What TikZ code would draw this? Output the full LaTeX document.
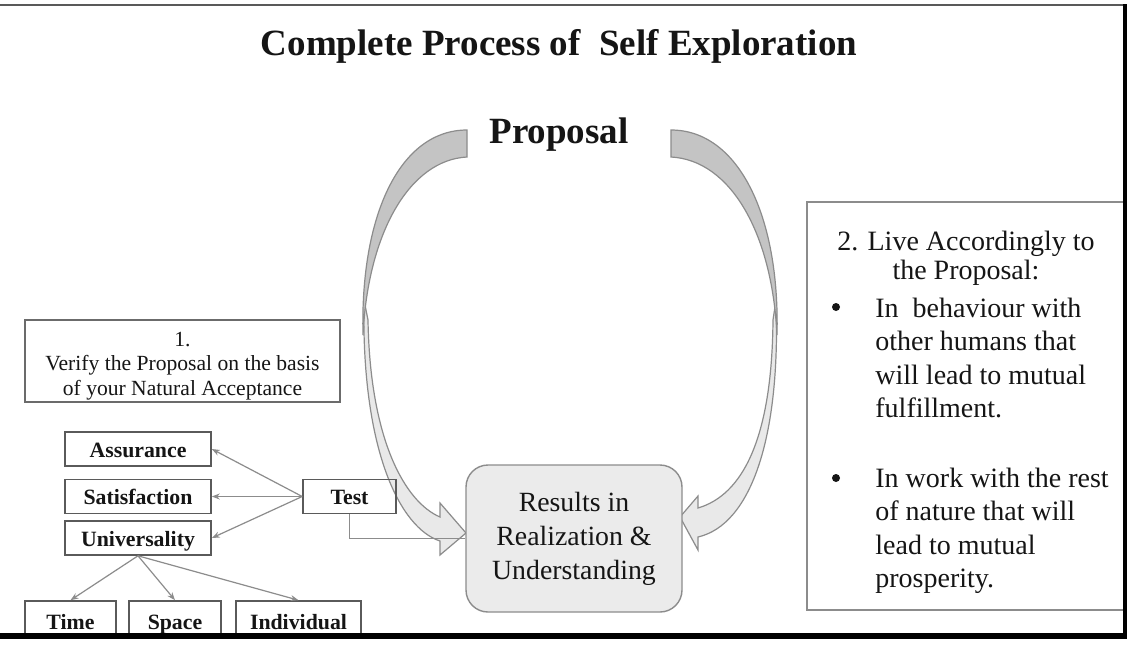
\documentclass[tikz,border=0pt]{standalone}
\usepackage{fontspec}
\setmainfont{Liberation Serif}
\usetikzlibrary{arrows.meta}
\definecolor{darkfill}{HTML}{C4C4C4}
\definecolor{lightfill}{HTML}{E9E9E9}
\definecolor{edgegray}{HTML}{8C8C8C}
\definecolor{boxline}{HTML}{5A5A5A}
\definecolor{ink}{HTML}{151515}
\definecolor{resfill}{HTML}{EBEBEB}
\begin{document}
\begin{tikzpicture}[x=0.5pt,y=-0.5pt,
  every node/.style={text=ink},
  smallbox/.style={draw=boxline, line width=0.8pt, inner sep=0pt,
    font=\bfseries\fontsize{10.9}{12}\selectfont, minimum height=17pt,
    text height=9pt, text depth=1pt},
  conn/.style={draw=edgegray, line width=0.6pt, -{Stealth[length=4pt,width=3pt]}},
  blockdark/.style={fill=darkfill, draw=edgegray, line width=0.6pt},
  blocklight/.style={fill=lightfill, draw=edgegray, line width=0.6pt},
  bodytext/.style={font=\fontsize{14}{16.75}\selectfont, align=left, inner sep=0pt},
  bulletdot/.style={circle, fill=ink, inner sep=0pt, minimum size=4pt}
]
\useasboundingbox (0,0) rectangle (1142,650);
\fill[white] (0,0) rectangle (1142,650);

% title
\node[anchor=base, font=\bfseries\fontsize{18.5}{20}\selectfont] (title) at (559,55) {Complete Process of\ \ Self Exploration};
\node[anchor=base, font=\bfseries\fontsize{18.5}{20}\selectfont] (proposal) at (559,143) {Proposal};

% curved block arrows (left)
\path[blocklight] (364,300) .. controls (361,450) and (400,528) .. (440,541)
  -- (440,555) -- (466,533) -- (440,503) -- (440,517)
  .. controls (405,502) and (370,440) .. (368,320) -- cycle;
\path[blockdark] (467,130) .. controls (400,130) and (360,215) .. (363,335)
  .. controls (368,232) and (410,160) .. (467,157) -- cycle;
% curved block arrows (right)
\path[blocklight] (776,300) .. controls (781,440) and (750,525) .. (698,537)
  -- (698,550) -- (680,517) -- (698,496) -- (698,508)
  .. controls (742,495) and (772,440) .. (773,320) -- cycle;
\path[blockdark] (671,130) .. controls (738,130) and (780,215) .. (777,335)
  .. controls (772,232) and (730,160) .. (671,157) -- cycle;

% left box
\node[draw=boxline!90, line width=0.6pt, minimum width=157.5pt, minimum height=41pt,
  inner sep=0pt] (verify) at (182.5,361) {};
\node[align=center, inner sep=0pt, font=\fontsize{10.8}{12.25}\selectfont] (verifytext) at (182.5,366)
  {1.\\Verify the Proposal on the basis\\of your Natural Acceptance};

% test boxes
\node[smallbox, minimum width=73pt] (assur) at (138,449) {Assurance};
\node[smallbox, minimum width=73pt] (satis) at (138,496.5) {Satisfaction};
\node[smallbox, minimum width=73pt] (univ) at (138,538) {Universality};
\node[smallbox, minimum width=46.5pt] (test) at (349.5,496.5) {Test};
\node[smallbox, minimum width=45.5pt, minimum height=20pt] (time) at (70.5,621) {Time};
\node[smallbox, minimum width=46pt, minimum height=20pt] (space) at (175,621) {Space};
\node[smallbox, minimum width=62.5pt, minimum height=20pt] (indiv) at (298.5,621) {Individual};

% results
\node[draw=edgegray, fill=resfill, line width=0.7pt, rounded corners=11pt,
  minimum width=108pt, minimum height=73.5pt, align=center, inner sep=0pt,
  font=\fontsize{13.9}{17}\selectfont] (res) at (574,538.5)
  {Results in\\Realization \&\\Understanding};

% connectors
\draw[conn] (test.west) -- (assur.east);
\draw[conn] (test.west) -- (satis.east);
\draw[conn] (test.west) -- (univ.east);
\draw[conn] (univ.south) -- (time.north);
\draw[conn] (univ.south) -- (space.north);
\draw[conn] (univ.south) -- (indiv.north);
\draw[draw=edgegray, line width=0.6pt] (test.south) |- (res.west);

% right box
\node[draw=edgegray, line width=0.6pt, minimum width=158.5pt, minimum height=204pt, inner sep=0pt] (live) at (965.5,406) {};
\node[font=\fontsize{14}{14.5}\selectfont, align=center, inner sep=0pt] (livehead) at (966,258)
  {2. Live Accordingly to\\the Proposal:};
\node[bulletdot] (b1) at (836,307) {};
\node[bodytext, anchor=west] (item1) at (875,358)
  {In\ \ behaviour with\\other humans that\\will lead to mutual\\fulfillment.};
\node[bulletdot] (b2) at (836,478) {};
\node[bodytext, anchor=west] (item2) at (875,531)
  {In work with the rest\\of nature that will\\lead to mutual\\prosperity.};

% frame
\draw[line width=1pt, color=black!65] (0,5) -- (1126,5);
\draw[line width=2pt, color=black] (1125,4) -- (1125,640);
\fill[white] (0,639) rectangle (1142,650);
\draw[line width=3pt, color=black] (0,636) -- (1127,636);
\fill[white] (1127,0) rectangle (1142,650);
\end{tikzpicture}
\end{document}
